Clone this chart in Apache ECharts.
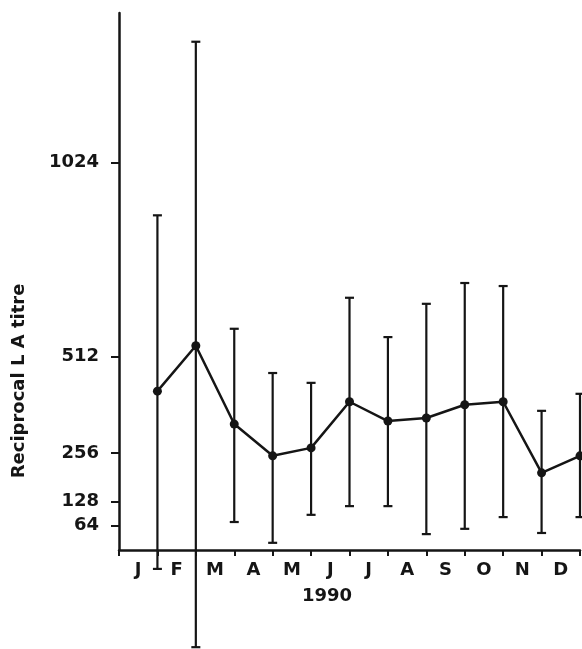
<!DOCTYPE html>
<html>
<head>
<meta charset="utf-8">
<script src="https://cdn.jsdelivr.net/npm/echarts@6/dist/echarts.min.js"></script>
<style>
html,body{margin:0;padding:0;background:#fff;}
#chart{width:582px;height:649px;}
</style>
</head>
<body>
<div id="chart"></div>
<script>
const months = ['J','F','M','A','M','J','J','A','S','O','N','D'];
const monthPos = [1,2,3,4,5,6,7,8,9,10,11,12];
const meanTitre = [420,540,333,249,270,392,341,349,384,392,204,249];
const upperTitre = [885,1344,585,468,442,667,563,651,706,698,368,413];
const lowerTitre = [-50,-257,74,19,93,116,116,42,56,87,45,87];
const yTicks = [64,128,256,512,1024];
const yTitle = 'Reciprocal L A titre';
const yearLabel = '1990';

const ink = '#151515';
const font = 'DejaVu Sans';

const chart = echarts.init(document.getElementById('chart'), null, {renderer:'canvas'});

const errData = monthPos.map((x,i)=>[x, lowerTitre[i], upperTitre[i]]);
const lineData = monthPos.map((x,i)=>[x, meanTitre[i]]);

chart.setOption({
  animation:false,
  backgroundColor:'#fff',
  grid:{left:119, right:2, top:13, bottom:99},
  xAxis:[{
    type:'value', min:0, max:12, interval:1,
    axisLine:{show:true, lineStyle:{color:ink, width:2.5}},
    axisTick:{show:true, length:6, lineStyle:{color:ink, width:2}},
    axisLabel:{show:false},
    splitLine:{show:false}
  },{
    type:'category', data:months, boundaryGap:true, position:'bottom',
    axisLine:{show:false}, axisTick:{show:false}, splitLine:{show:false},
    axisLabel:{color:ink, fontFamily:font, fontSize:18, fontWeight:'bold', margin:11}
  }],
  yAxis:{
    type:'value', min:0, max:1420,
    axisLine:{show:true, lineStyle:{color:ink, width:2.5}},
    axisTick:{show:true, length:8, customValues:yTicks, lineStyle:{color:ink, width:2}},
    axisLabel:{customValues:yTicks, formatter:function(v){return String(v);}, color:ink, fontFamily:font, fontSize:18, fontWeight:'bold', margin:20},
    splitLine:{show:false}
  },
  graphic:[
    {type:'text', x:19, y:381, rotation:Math.PI/2,
     style:{text:yTitle, fill:ink, font:'bold 18px "DejaVu Sans"', align:'center', verticalAlign:'middle'}},
    {type:'text', x:327, y:596,
     style:{text:yearLabel, fill:ink, font:'bold 18px "DejaVu Sans"', align:'center', verticalAlign:'middle'}}
  ],
  series:[{
    type:'custom',
    xAxisIndex:0, yAxisIndex:0,
    clip:false,
    data:errData,
    encode:{x:0, y:[1,2]},
    renderItem:function(params, api){
      const x = api.value(0);
      const lo = api.coord([x, api.value(1)]);
      const hi = api.coord([x, api.value(2)]);
      const hw = 4.5;
      const st = {stroke:ink, lineWidth:2.2};
      return {type:'group', children:[
        {type:'line', shape:{x1:lo[0], y1:lo[1], x2:hi[0], y2:hi[1]}, style:st},
        {type:'line', shape:{x1:lo[0]-hw, y1:lo[1], x2:lo[0]+hw, y2:lo[1]}, style:st},
        {type:'line', shape:{x1:hi[0]-hw, y1:hi[1], x2:hi[0]+hw, y2:hi[1]}, style:st}
      ]};
    },
    z:2
  },{
    type:'line',
    xAxisIndex:0, yAxisIndex:0,
    clip:false,
    data:lineData,
    symbol:'circle', symbolSize:9,
    itemStyle:{color:ink},
    lineStyle:{color:ink, width:2.5},
    z:3
  }]
});
</script>
</body>
</html>
